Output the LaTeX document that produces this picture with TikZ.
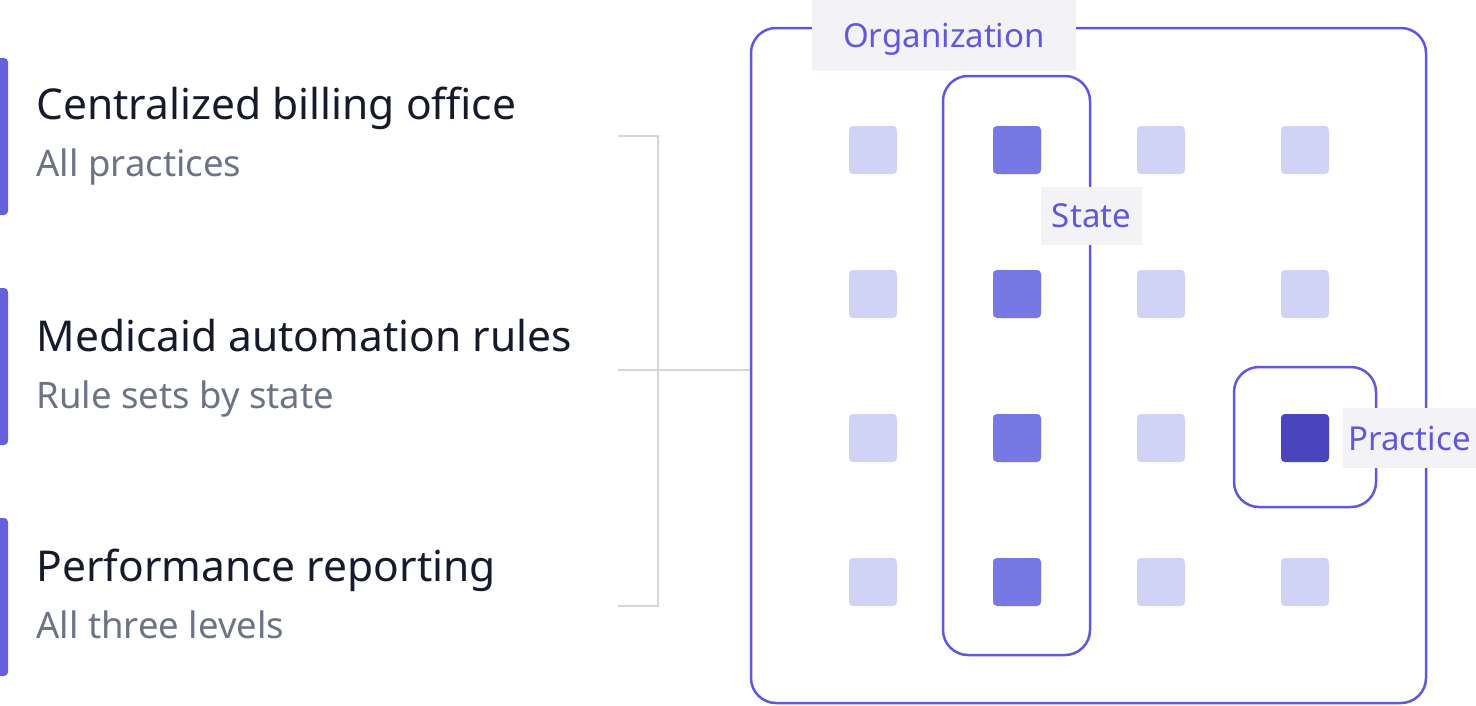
\documentclass[tikz,border=0pt]{standalone}
\usepackage{fontspec}
\setmainfont{Noto Sans}
\definecolor{acc}{HTML}{5F58DA}
\definecolor{bar}{HTML}{6660DD}
\definecolor{sub}{HTML}{6B7385}
\definecolor{ttl}{HTML}{161A2B}
\definecolor{lgt}{HTML}{CFD4F7}
\definecolor{mid}{HTML}{7678E3}
\definecolor{drk}{HTML}{4B45BD}
\definecolor{lbg}{HTML}{F3F3F7}
\definecolor{brk}{HTML}{D6D6D9}
\begin{document}
\begin{tikzpicture}[x=1pt,y=-1pt,
 sq/.style={minimum size=48pt,inner sep=0pt,rounded corners=4pt,draw=none},
 ttl/.style={anchor=base west,text=ttl,font=\fontsize{42.5}{46}\selectfont},
 sub/.style={anchor=base west,text=sub,font=\fontsize{36.5}{40}\selectfont},
 lab/.style={fill=lbg,text=acc,font=\fontsize{33}{36}\selectfont,inner sep=0pt,text depth=0pt},
 grp/.style={draw=acc,line width=2.5pt,rounded corners=25pt},
 brk/.style={draw=brk,line width=2pt}]
\useasboundingbox (0,0) rectangle (1476,705);
% left bars
\foreach \a/\b in {58/215,288/445,518/676}
 \fill[bar,rounded corners=4pt] (-6,\a) rectangle (8,\b);
\node[ttl] (t1) at (33,119) {Centralized billing office};
\node[sub] (s1) at (33,176) {All practices};
\node[ttl] (t2) at (33,351) {Medicaid automation rules};
\node[sub] (s2) at (33,408) {Rule sets by state};
\node[ttl] (t3) at (33,581) {Performance reporting};
\node[sub] (s3) at (33,638) {All three levels};
% bracket
\coordinate (ba) at (618,136); \coordinate (bb) at (658,136);
\coordinate (bc) at (658,606); \coordinate (bd) at (618,606);
\coordinate (bm) at (618,370); \coordinate (be) at (751,370);
\draw[brk] (ba) -- (bb) -- (bc) -- (bd);
\draw[brk] (bm) -- (be);
% boxes
\draw[grp] (751,28) rectangle (1426,703);
\node[lab,minimum width=264pt,minimum height=71pt] (org) at (944,35.5) {Organization};
% squares
\foreach \c [count=\i] in {873,1017,1161,1305}
 \foreach \r [count=\j] in {150,294,438,582}
  \node[sq,fill=lgt] (q\i\j) at (\c,\r) {};
\foreach \j in {1,...,4} \node[sq,fill=mid] at (q2\j) {};
\node[sq,fill=drk] at (q43) {};
\draw[grp] (943,76) rectangle (1090,655);
\draw[grp] (1234,367) rectangle (1376,507);
\node[lab,minimum width=101pt,minimum height=58pt] (st) at (1091.5,216) {State};
\node[lab,minimum width=133pt,minimum height=60pt] (pr) at (1409.5,438) {Practice};
\end{tikzpicture}
\end{document}
